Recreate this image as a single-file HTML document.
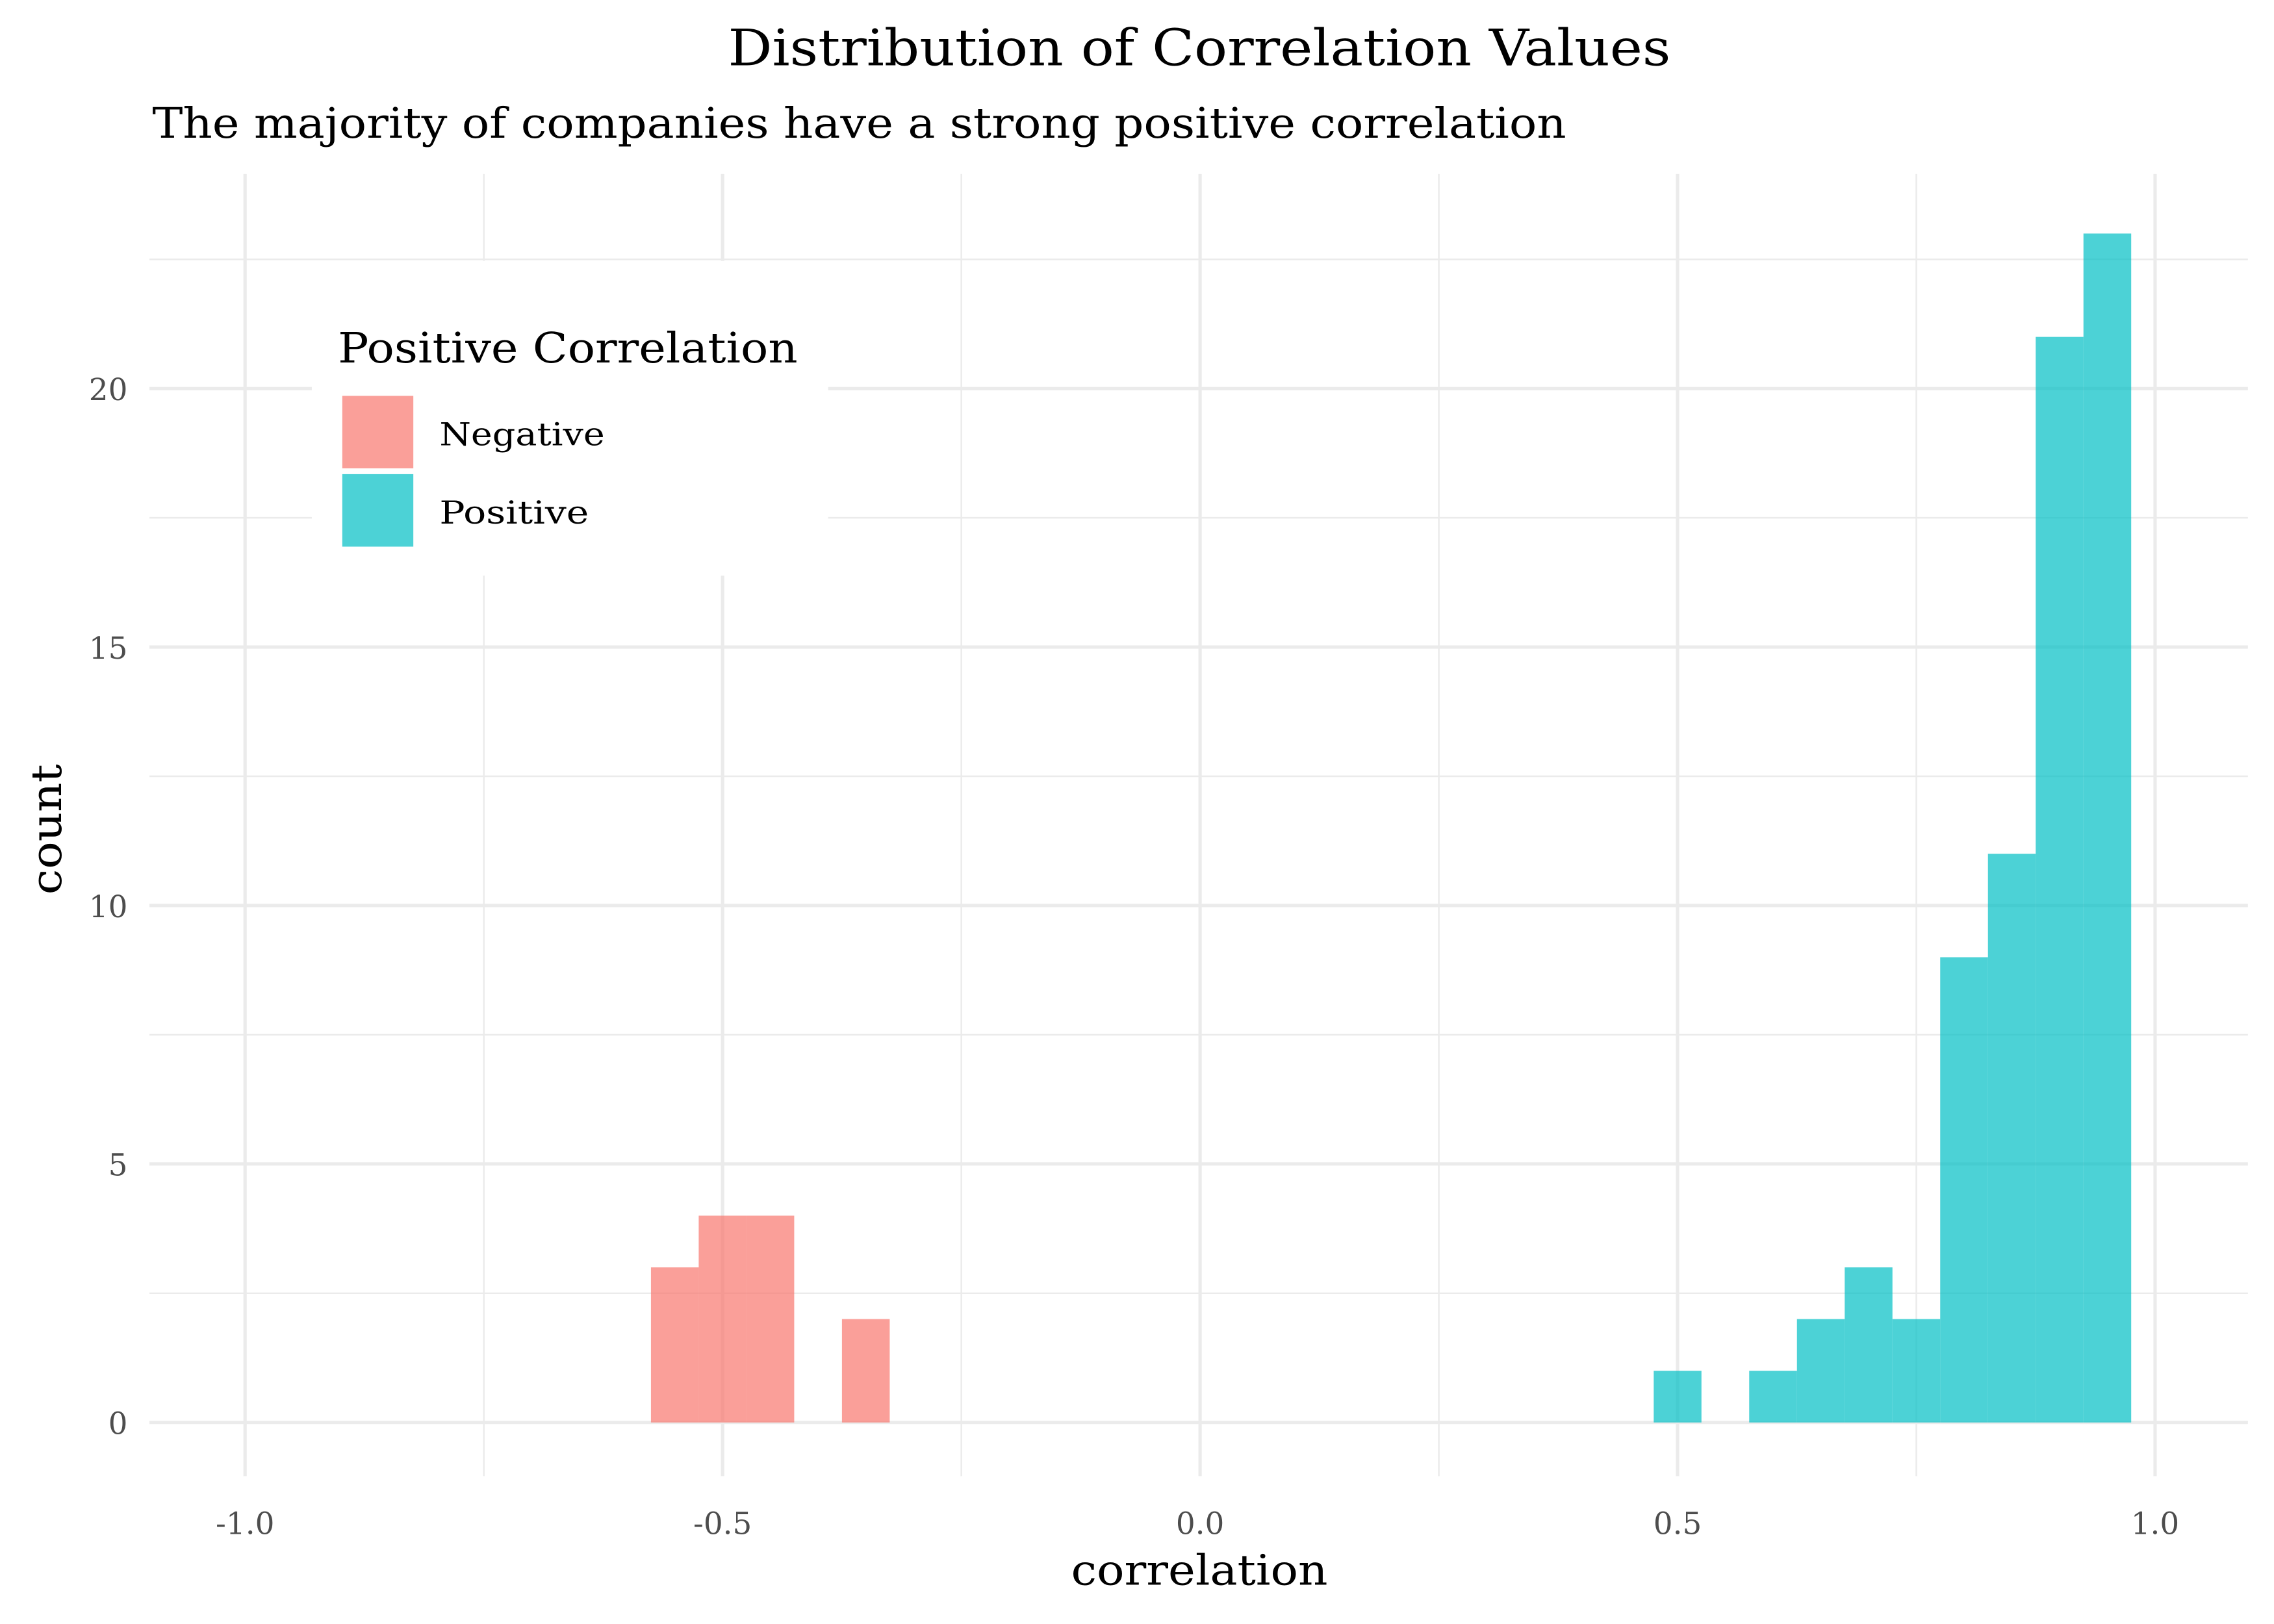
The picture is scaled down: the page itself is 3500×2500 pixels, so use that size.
<!DOCTYPE html>
<html><head><meta charset="utf-8"><style>
html,body{margin:0;padding:0;background:#fff;}
svg{display:block;}
text{font-family:"DejaVu Serif","Liberation Serif",serif;}
</style></head><body>
<svg id="chart" width="3500" height="2500" viewBox="0 0 1568 1120" preserveAspectRatio="none" xmlns="http://www.w3.org/2000/svg">
<rect x="0" y="0" width="1568" height="1120" fill="#fff"/>
<g id="grid"></g>
<g id="bars"></g>
<g id="axes"></g>
<text x="827" y="45" text-anchor="middle" font-size="35" textLength="650" lengthAdjust="spacingAndGlyphs" fill="#000">Distribution of Correlation Values</text>
<text x="105" y="95" font-size="29" textLength="975" lengthAdjust="spacingAndGlyphs" fill="#000">The majority of companies have a strong positive correlation</text>
<text x="827" y="1093" text-anchor="middle" font-size="29" textLength="177" lengthAdjust="spacingAndGlyphs" fill="#000">correlation</text>
<text transform="translate(42,572) rotate(-90)" text-anchor="middle" font-size="29" textLength="90" lengthAdjust="spacingAndGlyphs" fill="#000">count</text>
<g>
<rect x="215" y="180" width="356" height="217" fill="#fff"/>
<text x="233" y="250" font-size="29" textLength="317" lengthAdjust="spacingAndGlyphs" fill="#000">Positive Correlation</text>
<g>
<rect x="236" y="273" width="49" height="50" fill="#F8766D" fill-opacity="0.7"/>
<text x="303" y="307" font-size="22" textLength="114" lengthAdjust="spacingAndGlyphs" fill="#000">Negative</text>
</g>
<g>
<rect x="236" y="327" width="49" height="50" fill="#00BFC4" fill-opacity="0.7"/>
<text x="303" y="361" font-size="22" textLength="103" lengthAdjust="spacingAndGlyphs" fill="#000">Positive</text>
</g>
</g>
</svg>
<script>
const negCenters = [-0.55, -0.5, -0.45, -0.4, -0.35];
const negCounts = [3, 4, 4, 0, 2];
const posCenters = [0.5, 0.55, 0.6, 0.65, 0.7, 0.75, 0.8, 0.85, 0.9, 0.95];
const posCounts = [1, 0, 1, 2, 3, 2, 9, 11, 21, 23];
const binWidth = 0.05;
const xTicks = [-1.0, -0.5, 0.0, 0.5, 1.0];
const xTickLabels = ["-1.0", "-0.5", "0.0", "0.5", "1.0"];
const xMinor = [-0.75, -0.25, 0.25, 0.75];
const yTicks = [0, 5, 10, 15, 20];
const yTickLabels = ["0", "5", "10", "15", "20"];
const yMinor = [2.5, 7.5, 12.5, 17.5, 22.5];

const NS = "http://www.w3.org/2000/svg";
const panel = {left: 103, right: 1550, top: 120, bottom: 1018};
function xScale(v) { return 827.5 + v * 658.5; }
function yScale(v) { return 981 - v * 35.65; }
function mk(tag, attrs, parent) {
  const e = document.createElementNS(NS, tag);
  for (const k in attrs) e.setAttribute(k, attrs[k]);
  parent.appendChild(e);
  return e;
}
const grid = document.getElementById('grid');
const bars = document.getElementById('bars');
const axes = document.getElementById('axes');

yMinor.forEach(v => {
  const l = mk('line', {x1: panel.left, x2: panel.right, y1: yScale(v), y2: yScale(v), stroke: '#ebebeb', 'stroke-width': 1.1}, grid);
  
  
});
xMinor.forEach(v => {
  const l = mk('line', {x1: xScale(v), x2: xScale(v), y1: panel.top, y2: panel.bottom, stroke: '#ebebeb', 'stroke-width': 1.1}, grid);
  
  
});
yTicks.forEach((v, i) => {
  const l = mk('line', {x1: panel.left, x2: panel.right, y1: yScale(v), y2: yScale(v), stroke: '#ebebeb', 'stroke-width': 2.3}, grid);
  
  
  const t = mk('text', {x: 88, y: yScale(v) + 8, 'text-anchor': 'end', 'font-size': 21, fill: '#4d4d4d'}, axes);
  t.textContent = yTickLabels[i];
  
  
});
xTicks.forEach((v, i) => {
  const l = mk('line', {x1: xScale(v), x2: xScale(v), y1: panel.top, y2: panel.bottom, stroke: '#ebebeb', 'stroke-width': 2.3}, grid);
  
  
  const t = mk('text', {x: xScale(v), y: 1058, 'text-anchor': 'middle', 'font-size': 21, fill: '#4d4d4d'}, axes);
  t.textContent = xTickLabels[i];
  
  
});
function drawSeries(centers, counts, color, name) {
  centers.forEach((c, i) => {
    if (counts[i] <= 0) return;
    const x0 = xScale(c - binWidth / 2), x1 = xScale(c + binWidth / 2);
    const r = mk('rect', {x: x0, y: yScale(counts[i]), width: x1 - x0, height: yScale(0) - yScale(counts[i]), fill: color, 'fill-opacity': 0.7}, bars);
    
    
  });
}
drawSeries(negCenters, negCounts, '#F8766D', 'bar-negative');
drawSeries(posCenters, posCounts, '#00BFC4', 'bar-positive');
</script>
</body></html>
